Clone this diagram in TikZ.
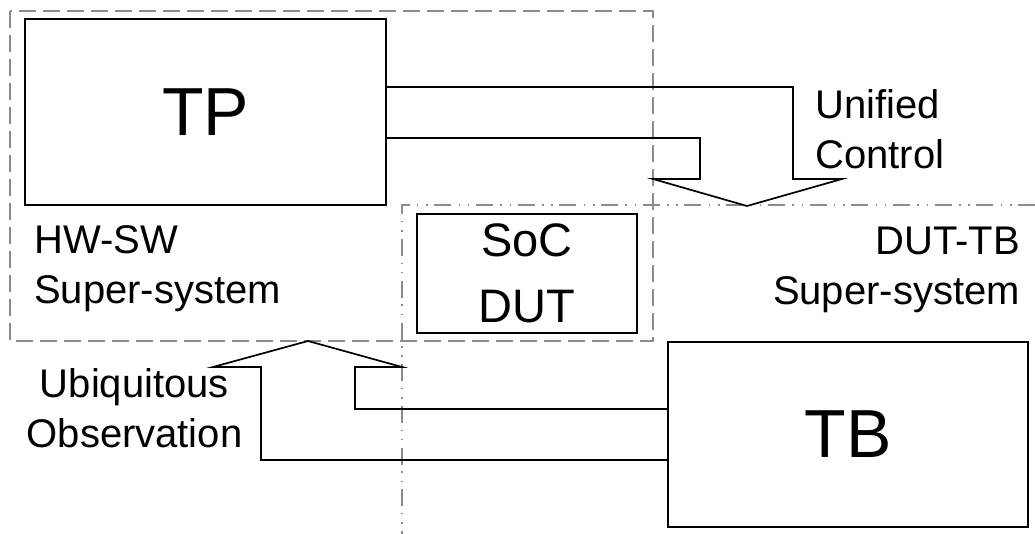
\documentclass[tikz,border=0pt]{standalone}
\usepackage{fontspec}
\setmainfont{Liberation Sans}
\usetikzlibrary{
  calc,
  positioning
}

\tikzset{
  blockbox/.style={draw,line width=1.7pt,inner sep=0pt,align=center},
  hwsw/.style={draw=black!45,line width=1.3pt,dash pattern=on 17pt off 7pt},
  duttb/.style={draw=black!45,line width=1.3pt,
    dash pattern=on 17pt off 6.5pt on 1.5pt off 7.8pt on 1.5pt off 7.4pt},
  fatarrow/.style={draw,line width=1.7pt,line join=miter},
  lbl/.style={font=\fontsize{40}{50}\selectfont,inner sep=0pt}
}

\begin{document}
\begin{tikzpicture}[x=1pt,y=-1pt]
  \useasboundingbox (0,0) rectangle (1035,534);
  % super-system borders
  \draw[hwsw] (10,11) rectangle (653,341);
  \draw[duttb] (1035,205) -- (402,205) -- (402,534);
  % blocks
  \node[blockbox,minimum width=361pt,minimum height=186pt,
        font=\fontsize{68}{80}\selectfont] (tp) at (205.5,112) {TP};
  \node[blockbox,minimum width=220pt,minimum height=119pt,
        font=\fontsize{47}{66}\selectfont] (soc) at (527,273.5) {SoC\\DUT};
  \node[blockbox,minimum width=360pt,minimum height=185pt,
        font=\fontsize{68}{80}\selectfont] (tb) at (848,434.5) {TB};
  % labels
  \node[lbl,anchor=north west,align=left] (hwswlbl) at (34,225.4) {HW-SW\\Super-system};
  \node[lbl,anchor=north east,align=right] (duttblbl) at (1020,226.4) {DUT-TB\\Super-system};
  \node[lbl,anchor=north west,align=left] (uclbl) at (815,88.9) {Unified\\Control};
  \node[lbl,anchor=north,align=center] (uolbl) at (134.5,367.9) {Ubiquitous\\Observation};
  % unified control arrow
  \coordinate (uc1) at (793,87);
  \coordinate (uc2) at (700,138);
  \coordinate (ucTip) at (747,206);
  \draw[fatarrow] (tp.east |- uc1) -- (uc1) -- ++(0,92) -- ++(49,0) -- (ucTip)
    -- ++(-94,-27) -- ++(47,0) -- (uc2) -- (tp.east |- uc2);
  % ubiquitous observation arrow
  \coordinate (uo1) at (355,409);
  \coordinate (uo2) at (261,460);
  \coordinate (uoTip) at (308,341);
  \draw[fatarrow] (tb.west |- uo1) -- (uo1) -- ++(0,-42) -- ++(47,0) -- (uoTip)
    -- ++(-95,26) -- ++(48,0) -- (uo2) -- (tb.west |- uo2);
\end{tikzpicture}
\end{document}
